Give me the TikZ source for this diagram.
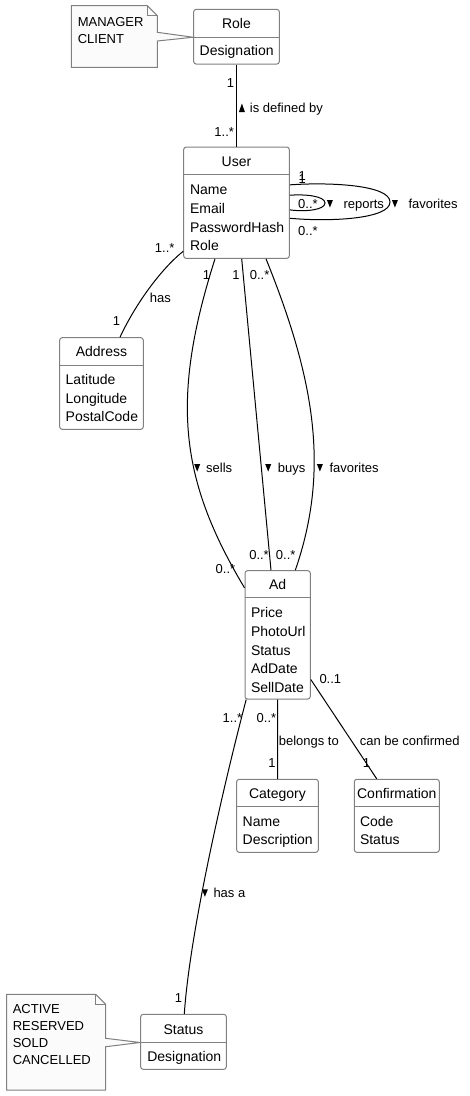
\documentclass[tikz,border=0pt]{standalone}
\usepackage{fontspec}
\setmainfont{Liberation Sans}
\usetikzlibrary{calc}
\definecolor{boxline}{RGB}{128,128,128}
\definecolor{notefill}{RGB}{251,251,251}
\newcommand{\tridown}{\tikz[baseline=0pt]\fill[black] (0pt,8pt) -- (6pt,8pt) -- (3pt,0.5pt) -- cycle;}
\newcommand{\triup}{\tikz[baseline=0pt]\fill[black] (0pt,0.5pt) -- (6pt,0.5pt) -- (3pt,9pt) -- cycle;}
\begin{document}
\begin{tikzpicture}[x=1pt, y=-1pt, line width=1pt,
        cls/.style={draw=boxline, fill=white, rounded corners=2.5pt, inner sep=0pt},
        ttl/.style={font=\fontsize{14}{16}\selectfont, anchor=base, inner sep=0pt},
        attr/.style={font=\fontsize{14}{18.6}\selectfont, align=left, anchor=base west, inner sep=0pt},
        lbl/.style={font=\fontsize{13}{15}\selectfont, inner sep=0pt},
        notebox/.style={draw=boxline, fill=notefill},
        notetext/.style={font=\fontsize{13}{17}\selectfont, align=left, anchor=base west, inner sep=0pt}]
        \useasboundingbox (0,0) rectangle (469,1096);
        % classes (attr nodes sit on the baseline of their last line)
        \node[cls, minimum width=85.6, minimum height=54.7] (role) at (236.5,36.7) {};
        \draw[boxline] ($(role.north west)+(0,28.4)$) -- ($(role.north east)+(0,28.4)$);
        \node[ttl] (roletitle) at ($(role.north)+(0,20)$) {Role};
        \node[attr] (roleattr) at ($(role.north west)+(6,46.7)$) {Designation};

        \node[cls, minimum width=105.6, minimum height=111.3] (user) at (236.5,202.7) {};
        \draw[boxline] ($(user.north west)+(0,28)$) -- ($(user.north east)+(0,28)$);
        \node[ttl] (usertitle) at ($(user.north)+(0,19.7)$) {User};
        \node[attr] (userattr) at ($(user.north west)+(6.3,104.1)$) {Name\\Email\\PasswordHash\\Role};

        \node[cls, minimum width=83.6, minimum height=91.6] (address) at (101.5,383.5) {};
        \draw[boxline] ($(address.north west)+(0,28)$) -- ($(address.north east)+(0,28)$);
        \node[ttl] (addresstitle) at ($(address.north)+(0,19.6)$) {Address};
        \node[attr] (addressattr) at ($(address.north west)+(6,84.5)$) {Latitude\\Longitude\\PostalCode};

        \node[cls, minimum width=65.3, minimum height=128.3] (ad) at (277.65,634.85) {};
        \draw[boxline] ($(ad.north west)+(0,27.6)$) -- ($(ad.north east)+(0,27.6)$);
        \node[ttl] (adtitle) at ($(ad.north)+(0,19)$) {Ad};
        \node[attr] (adattr) at ($(ad.north west)+(6,122)$) {Price\\PhotoUrl\\Status\\AdDate\\SellDate};

        \node[cls, minimum width=81.6, minimum height=73] (category) at (277.5,815.8) {};
        \draw[boxline] ($(category.north west)+(0,28)$) -- ($(category.north east)+(0,28)$);
        \node[ttl] (categorytitle) at ($(category.north)+(0,20)$) {Category};
        \node[attr] (categoryattr) at ($(category.north west)+(6,66)$) {Name\\Description};

        \node[cls, minimum width=85, minimum height=73] (confirmation) at (396.8,815.8) {};
        \draw[boxline] ($(confirmation.north west)+(0,28)$) -- ($(confirmation.north east)+(0,28)$);
        \node[ttl] (confirmationtitle) at ($(confirmation.north)+(0,20)$) {Confirmation};
        \node[attr] (confirmationattr) at ($(confirmation.north west)+(5.7,66)$) {Code\\Status};

        \node[cls, minimum width=85.6, minimum height=55] (status) at (183.5,1041.8) {};
        \draw[boxline] ($(status.north west)+(0,28.7)$) -- ($(status.north east)+(0,28.7)$);
        \node[ttl] (statustitle) at ($(status.north)+(0,20.7)$) {Status};
        \node[attr] (statusattr) at ($(status.north west)+(6.6,47.4)$) {Designation};

        % notes
        \draw[notebox] (71.3,5.7) -- (147.3,5.7) -- (157.3,15.7) -- (157.3,32.3)
            -- ($(role.north west)+(0,28.4)$) -- (157.3,41) -- (157.3,67.3) -- (71.3,67.3) -- cycle;
        \draw[boxline] (147.3,5.7) -- (147.3,15.7) -- (157.3,15.7);
        \node[notetext] (rolenote) at (77.3,43) {MANAGER\\CLIENT};

        \draw[notebox] (6.7,994.3) -- (95.7,994.3) -- (105.7,1004.3) -- (105.7,1038.3)
            -- ($(status.north west)+(0,28.7)$) -- (105.7,1046.7) -- (105.7,1090) -- (6.7,1090) -- cycle;
        \draw[boxline] (95.7,994.3) -- (95.7,1004.3) -- (105.7,1004.3);
        \node[notetext] (statusnote) at (12.3,1064.3) {ACTIVE\\RESERVED\\SOLD\\CANCELLED};

        % associations
        \draw (role.south) -- (user.north);
        \node[lbl, anchor=base east] (rolemult) at (234.5,87.5) {1};
        \node[lbl, anchor=base west] (rolelbl) at (238.7,112.5) {\triup\hspace{5pt}is defined by};
        \node[lbl, anchor=base east] (usermult) at (234.5,136) {1..*};

        \draw ($(user.north east)+(0,38.3)$) .. controls (330,182) and (390,185) .. (390,202)
            .. controls (390,219) and (330,222) .. ($(user.north east)+(0,71.7)$);
        \draw ($(user.north east)+(0,48.7)$) .. controls (305,194) and (325,196) .. (325,203)
            .. controls (325,210) and (305,212) .. ($(user.north east)+(0,63.3)$);
        \node[lbl, anchor=base west] (loopa) at (298,180.5) {1};
        \node[lbl, anchor=base west] (loopb) at (298,183.5) {1};
        \node[lbl, anchor=base west] (loopc) at (297.7,208) {0..*};
        \node[lbl, anchor=base west] (reports) at (326.7,208) {\tridown\hspace{10.6pt}reports};
        \node[lbl, anchor=base west] (userfav) at (391.7,208) {\tridown\hspace{10.6pt}favorites};
        \node[lbl, anchor=base west] (loopd) at (297.7,235) {0..*};

        \draw ($(user.south west)+(0,-7.6)$) .. controls (160,270) and (135,305) .. ($(address.north)+(18.5,0)$);
        \node[lbl, anchor=base east] (hasa) at (175,252.5) {1..*};
        \node[lbl, anchor=base west] (has) at (149.3,302.7) {has};
        \node[lbl, anchor=base east] (hasb) at (120.7,325.7) {1};

        \draw ($(user.south)+(-21.5,0)$) .. controls (170,400) and (180,480) .. ($(ad.north west)+(0,17.6)$);
        \draw ($(user.south)+(5.2,0)$) -- ($(ad.north)+(-6.65,0)$);
        \draw ($(user.south)+(29.5,0)$) .. controls (315,380) and (330,470) .. ($(ad.north)+(17.65,0)$);
        \node[lbl, anchor=base east] (sellsa) at (210.7,279.3) {1};
        \node[lbl, anchor=base east] (buysa) at (240,279.3) {1};
        \node[lbl, anchor=base west] (fava) at (249.3,279.3) {0..*};
        \node[lbl, anchor=base west] (sells) at (194,472) {\tridown\hspace{6pt}sells};
        \node[lbl, anchor=base west] (buys) at (265,472) {\tridown\hspace{6.7pt}buys};
        \node[lbl, anchor=base west] (adfav) at (316.7,472) {\tridown\hspace{6.6pt}favorites};
        \node[lbl, anchor=base east] (sellsb) at (235.7,573.3) {0..*};
        \node[lbl, anchor=base east] (buysb) at (269.3,559) {0..*};
        \node[lbl, anchor=base east] (favb) at (296,559) {0..*};

        \draw (ad.south) -- (category.north);
        \node[lbl, anchor=base east] (cata) at (276.7,722.3) {0..*};
        \node[lbl, anchor=base west] (belongs) at (278.3,745) {belongs to};
        \node[lbl, anchor=base east] (catb) at (276,767.3) {1};

        \draw ($(ad.south east)+(0,-20)$) -- ($(confirmation.north)+(-20.1,0)$);
        \node[lbl, anchor=base west] (confa) at (319,683.3) {0..1};
        \node[lbl, anchor=base west] (confirmed) at (359.3,745) {can be confirmed};
        \node[lbl, anchor=base east] (confb) at (370.7,767.3) {1};

        \draw ($(ad.south west)+(1.7,0)$) .. controls (225,780) and (190,930) .. ($(status.north)+(0.8,0)$);
        \node[lbl, anchor=base east] (stata) at (242.7,722.3) {1..*};
        \node[lbl, anchor=base west] (hasstat) at (201.7,897.3) {\tridown\hspace{5.6pt}has a};
        \node[lbl, anchor=base east] (statb) at (182.7,1002.7) {1};
\end{tikzpicture}
\end{document}
